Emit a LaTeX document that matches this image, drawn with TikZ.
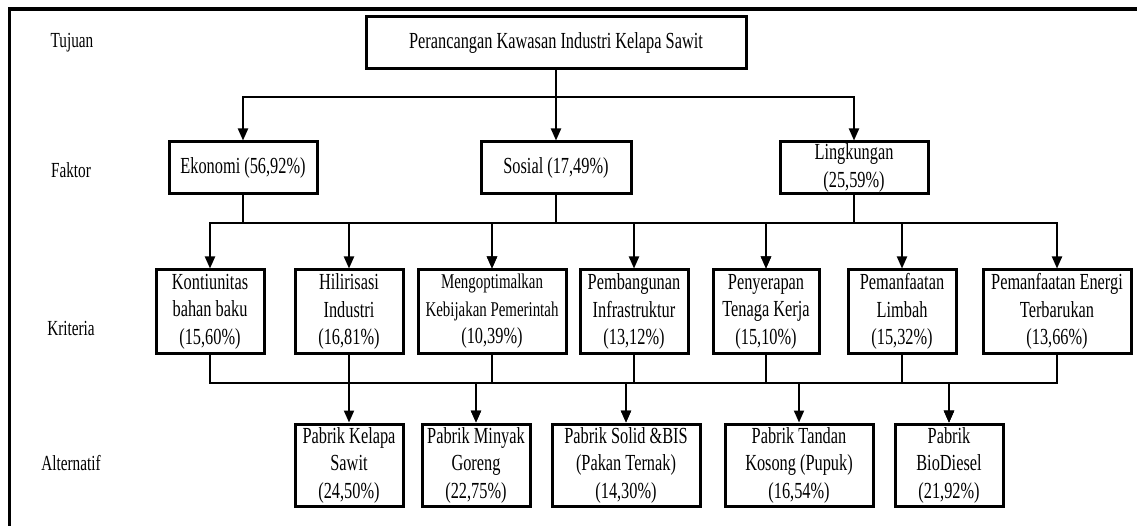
\documentclass[tikz,border=0pt]{standalone}
\usepackage{fontspec}
\setmainfont[FakeStretch=0.71]{Liberation Serif}
\usetikzlibrary{arrows.meta,shadows}
\begin{document}
\begin{tikzpicture}[x=1pt,y=-1pt,
  box/.style={draw=black, line width=3pt, fill=white, align=center, inner sep=0pt,
    font=\fontsize{23}{27.5}\selectfont,
    drop shadow={shadow xshift=1.5pt, shadow yshift=-1.5pt, fill=blue!20, opacity=0.5}},
  lvl/.style={font=\fontsize{21.5}{24}\selectfont, inner sep=0pt},
  conn/.style={line width=2pt},
  arr/.style={conn, -{Triangle[length=12pt,width=10pt]}}]
\useasboundingbox (0,0) rectangle (1137,526);
\draw[line width=3.5pt] (9.5,526) -- (9.5,9) -- (1137,9);

% level labels
\node[lvl] (lt) at (72,43) {Tujuan};
\node[lvl] (lf) at (71,170) {Faktor};
\node[lvl] (lk) at (71,328) {Kriteria};
\node[lvl] (la) at (71,463) {Alternatif};

% goal
\node[box, minimum width=380pt, minimum height=52pt] (top) at (556,43) {Perancangan Kawasan Industri Kelapa Sawit};

% factors
\node[box, minimum width=148pt, minimum height=52pt] (eko) at (243,168) {Ekonomi (56,92\%)};
\node[box, minimum width=150pt, minimum height=52pt] (sos) at (556,168) {Sosial (17,49\%)};
\node[box, minimum width=148pt, minimum height=52pt] (lin) at (854,168) {Lingkungan\\(25,59\%)};

% criteria
\node[box, minimum width=108pt, minimum height=83pt] (k1) at (210,311.5) {Kontiunitas\\bahan baku\\(15,60\%)};
\node[box, minimum width=108pt, minimum height=83pt] (k2) at (349,311.5) {Hilirisasi\\Industri\\(16,81\%)};
\node[box, minimum width=148pt, minimum height=83pt] (k3) at (492,311.5) {{\fontsize{21}{27.5}\selectfont Mengoptimalkan}\\{\fontsize{21}{27.5}\selectfont Kebijakan Pemerintah}\\(10,39\%)};
\node[box, minimum width=108pt, minimum height=83pt] (k4) at (634,311.5) {Pembangunan\\Infrastruktur\\(13,12\%)};
\node[box, minimum width=106pt, minimum height=83pt] (k5) at (766,311.5) {Penyerapan\\Tenaga Kerja\\(15,10\%)};
\node[box, minimum width=108pt, minimum height=83pt] (k6) at (902,311.5) {Pemanfaatan\\Limbah\\(15,32\%)};
\node[box, minimum width=148pt, minimum height=83pt] (k7) at (1057,311.5) {Pemanfaatan Energi\\Terbarukan\\(13,66\%)};

% alternatives
\node[box, minimum width=108pt, minimum height=82pt] (a1) at (349,465) {Pabrik Kelapa\\Sawit\\(24,50\%)};
\node[box, minimum width=108pt, minimum height=82pt] (a2) at (476,465) {Pabrik Minyak\\Goreng\\(22,75\%)};
\node[box, minimum width=148pt, minimum height=82pt] (a3) at (626,465) {Pabrik Solid \&BIS\\(Pakan Ternak)\\(14,30\%)};
\node[box, minimum width=148pt, minimum height=82pt] (a4) at (799,465) {Pabrik Tandan\\Kosong (Pupuk)\\(16,54\%)};
\node[box, minimum width=108pt, minimum height=82pt] (a5) at (949,465) {Pabrik\\BioDiesel\\(21,92\%)};

% bus levels
\coordinate (b1) at (0,97);
\coordinate (b2) at (0,223);
\coordinate (b3) at (0,383);

% goal -> factors
\foreach \f in {eko,sos,lin}
  \draw[arr] (top.south) -- (top.south |- b1) -| (\f.north);

% factors -> criteria
\foreach \k in {k1,k2,k3} \draw[arr] (eko.south) -- (eko.south |- b2) -| (\k.north);
\foreach \k in {k3,k4,k5} \draw[arr] (sos.south) -- (sos.south |- b2) -| (\k.north);
\foreach \k in {k5,k6,k7} \draw[arr] (lin.south) -- (lin.south |- b2) -| (\k.north);

% criteria -> alternatives
\foreach \k/\a in {k1/a1,k2/a2,k3/a2,k3/a3,k4/a3,k4/a4,k5/a5,k6/a5,k7/a5}
  \draw[arr] (\k.south) -- (\k.south |- b3) -| (\a.north);
\end{tikzpicture}
\end{document}
